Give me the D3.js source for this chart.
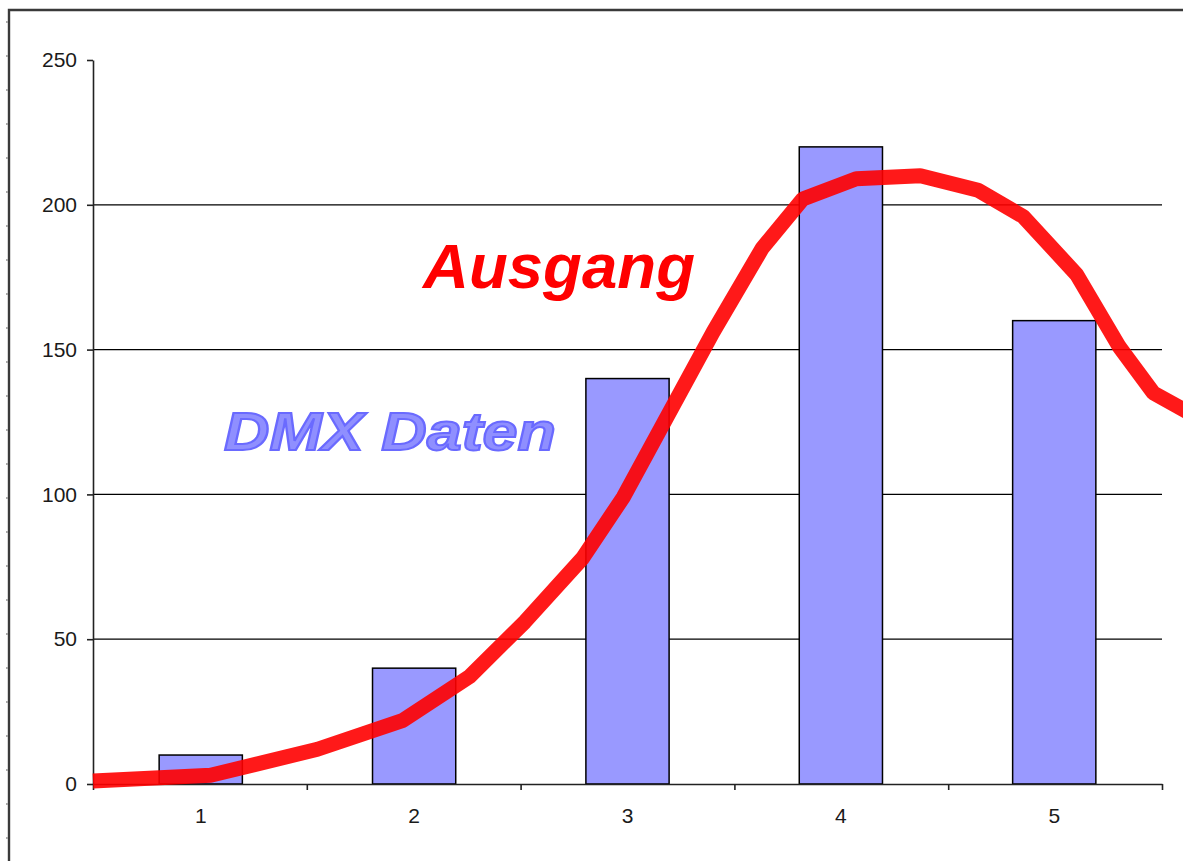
<!DOCTYPE html>
<html>
<head>
<meta charset="utf-8">
<script src="https://cdn.jsdelivr.net/npm/d3@7"></script>
<style>
  body { margin: 0; background: #fff; }
  svg { display: block; font-family: "Liberation Sans", Arial, sans-serif; }
  .axis text { font-size: 21px; fill: #1a1a1a; }
  .axis path, .axis line { stroke: #222; stroke-width: 1.6px; }
</style>
</head>
<body>
<script>
// bar series (DMX Daten)
const categories = ['1', '2', '3', '4', '5'];
const dmxValues = [10, 40, 140, 220, 160];

// line series (Ausgang), x in category units
const lineX = [0.5, 1.05, 1.55, 1.95, 2.26, 2.52, 2.79, 2.98, 3.40, 3.63, 3.82, 4.07, 4.37, 4.64, 4.85, 5.10, 5.30, 5.46, 5.68];
const lineY = [1, 3, 12, 22, 37, 56, 78, 99, 156, 185, 202, 209, 210, 205, 196, 176, 151, 135, 126];

const yTicks = [0, 50, 100, 150, 200, 250];
const gridValues = [50, 100, 150, 200];
const boundaries = [0.5, 1.5, 2.5, 3.5, 4.5, 5.5];

const W = 1183, H = 861;
const margin = {top: 60, right: 21, bottom: 77, left: 93},
  width = W - margin.left - margin.right,
  height = H - margin.top - margin.bottom;

const svg = d3.select('body').append('svg')
  .attr('width', W)
  .attr('height', H);

// outer frame + ruler dots on the left
svg.append('path')
  .attr('d', 'M9,' + H + 'V10H' + (W + 5))
  .attr('fill', 'none')
  .attr('stroke', '#3a3a3a')
  .attr('stroke-width', 2.4);
svg.append('g').selectAll('rect')
  .data(d3.range(22, H, 34))
  .join('rect')
  .attr('x', 6).attr('y', d => d - 1)
  .attr('width', 2).attr('height', 2)
  .attr('fill', '#aaa');

const g = svg.append('g')
  .attr('transform', 'translate(' + margin.left + ',' + margin.top + ')');

const x = d3.scaleBand()
  .domain(categories)
  .range([0, width])
  .paddingInner(0.61)
  .paddingOuter(0.31);

const xLin = d3.scaleLinear()
  .domain([0.5, 5.5])
  .range([0, width]);

const y = d3.scaleLinear()
  .domain([0, 250])
  .range([height, 0]);

// gridlines
g.append('g').selectAll('line')
  .data(gridValues)
  .join('line')
  .attr('x1', 0).attr('x2', width)
  .attr('y1', d => y(d)).attr('y2', d => y(d))
  .attr('stroke', '#000')
  .attr('stroke-width', 1.2);

// bars
g.append('g').selectAll('rect')
  .data(dmxValues)
  .join('rect')
  .attr('x', (d, i) => x(categories[i]))
  .attr('y', d => y(d))
  .attr('width', x.bandwidth())
  .attr('height', d => height - y(d))
  .attr('fill', '#9999ff')
  .attr('stroke', '#000')
  .attr('stroke-width', 1.5);

// axes
g.append('g')
  .attr('class', 'axis')
  .call(d3.axisLeft(y).tickValues(yTicks).tickSize(6).tickSizeOuter(0).tickPadding(10));

g.append('g')
  .attr('class', 'axis')
  .attr('transform', 'translate(0,' + height + ')')
  .call(d3.axisBottom(xLin).tickValues(boundaries).tickSize(6).tickSizeOuter(0).tickFormat(''));

const xLabels = g.append('g')
  .attr('class', 'axis')
  .attr('transform', 'translate(0,' + height + ')')
  .call(d3.axisBottom(x).tickSize(0).tickPadding(24));
xLabels.select('.domain').remove();

// Ausgang line
const line = d3.line()
  .x(d => xLin(d[0]))
  .y(d => y(d[1]));

g.append('path')
  .datum(lineX.map((v, i) => [v, lineY[i]]))
  .attr('d', line)
  .attr('fill', 'none')
  .attr('stroke', '#ff0000')
  .attr('stroke-opacity', 0.9)
  .attr('stroke-width', 15)
  .attr('stroke-linejoin', 'bevel');

// labels
svg.append('text')
  .attr('x', 423).attr('y', 288)
  .attr('font-size', 63)
  .attr('font-weight', 'bold')
  .attr('font-style', 'italic')
  .attr('textLength', 272)
  .attr('lengthAdjust', 'spacingAndGlyphs')
  .attr('fill', '#ff0000')
  .text('Ausgang');

svg.append('text')
  .attr('x', 224).attr('y', 450)
  .attr('font-size', 53)
  .attr('font-weight', 'bold')
  .attr('font-style', 'italic')
  .attr('textLength', 332)
  .attr('lengthAdjust', 'spacingAndGlyphs')
  .attr('fill', '#8f8fff')
  .attr('stroke', '#6a6aff')
  .attr('stroke-width', 2)
  .text('DMX Daten');
</script>
</body>
</html>
